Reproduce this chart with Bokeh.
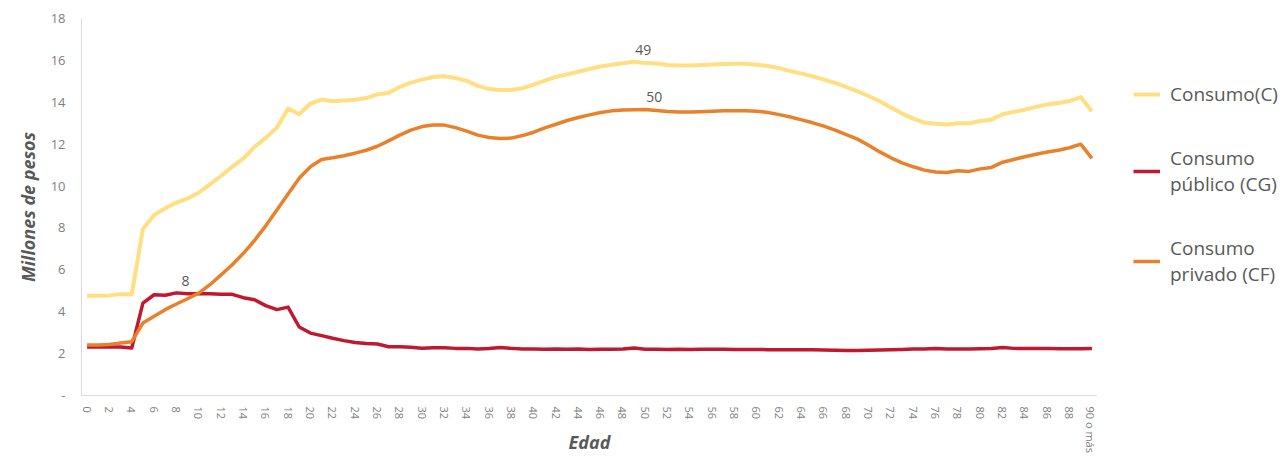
from bokeh.plotting import figure
from bokeh.layouts import row
from bokeh.models import Range1d, FixedTicker, Legend, LegendItem, ColumnDataSource
from bokeh.core.properties import value
from bokeh.embed import file_html
from bokeh.resources import INLINE

ages = list(range(91))

consumo_c = [4.76, 4.76, 4.78, 4.84, 4.84, 7.95, 8.62, 8.94, 9.21, 9.41,
             9.68, 10.08, 10.48, 10.92, 11.32, 11.87, 12.30, 12.79, 13.70, 13.43,
             13.94, 14.13, 14.05, 14.08, 14.12, 14.20, 14.38, 14.44, 14.73, 14.94,
             15.08, 15.21, 15.24, 15.16, 15.02, 14.78, 14.63, 14.59, 14.59, 14.67,
             14.84, 15.03, 15.21, 15.33, 15.46, 15.59, 15.71, 15.79, 15.86, 15.94,
             15.87, 15.85, 15.78, 15.76, 15.76, 15.78, 15.80, 15.83, 15.84, 15.84,
             15.79, 15.73, 15.63, 15.49, 15.37, 15.24, 15.08, 14.92, 14.73, 14.52,
             14.30, 14.05, 13.75, 13.46, 13.22, 13.03, 12.97, 12.94, 13.00, 13.00,
             13.11, 13.17, 13.43, 13.54, 13.65, 13.78, 13.89, 13.97, 14.06, 14.25,
             13.57]

consumo_cg = [2.32, 2.32, 2.32, 2.32, 2.27, 4.41, 4.81, 4.79, 4.90, 4.86,
              4.86, 4.86, 4.83, 4.83, 4.67, 4.57, 4.29, 4.10, 4.22, 3.27,
              2.98, 2.86, 2.73, 2.62, 2.53, 2.48, 2.46, 2.33, 2.33, 2.30,
              2.26, 2.28, 2.28, 2.25, 2.25, 2.22, 2.24, 2.29, 2.25, 2.22,
              2.22, 2.21, 2.22, 2.21, 2.22, 2.20, 2.21, 2.21, 2.22, 2.27,
              2.21, 2.21, 2.20, 2.21, 2.20, 2.21, 2.21, 2.21, 2.20, 2.20,
              2.20, 2.19, 2.19, 2.19, 2.18, 2.18, 2.17, 2.16, 2.15, 2.15,
              2.16, 2.17, 2.19, 2.20, 2.22, 2.22, 2.24, 2.22, 2.22, 2.22,
              2.23, 2.24, 2.29, 2.25, 2.24, 2.24, 2.25, 2.23, 2.23, 2.23,
              2.24]

consumo_cf = [2.41, 2.41, 2.44, 2.51, 2.57, 3.46, 3.78, 4.10, 4.37, 4.62,
              4.89, 5.29, 5.76, 6.24, 6.79, 7.40, 8.10, 8.86, 9.62, 10.37,
              10.92, 11.27, 11.35, 11.45, 11.57, 11.71, 11.90, 12.16, 12.43, 12.67,
              12.84, 12.92, 12.91, 12.79, 12.62, 12.43, 12.32, 12.27, 12.29, 12.41,
              12.57, 12.78, 12.95, 13.13, 13.27, 13.40, 13.51, 13.59, 13.63, 13.64,
              13.66, 13.61, 13.56, 13.53, 13.54, 13.55, 13.57, 13.59, 13.60, 13.60,
              13.57, 13.51, 13.41, 13.30, 13.16, 13.02, 12.86, 12.67, 12.46, 12.24,
              11.95, 11.63, 11.35, 11.11, 10.92, 10.76, 10.67, 10.65, 10.73, 10.70,
              10.82, 10.89, 11.14, 11.27, 11.40, 11.52, 11.63, 11.71, 11.83, 12.00,
              11.32]

x_ticks = list(range(0, 91, 2))
x_tick_labels = {90: "90 o más"}
y_ticks = list(range(0, 19, 2))
y_tick_labels = {0: "-"}

series_names = ["Consumo(C)", "Consumo\npúblico (CG)", "Consumo\nprivado (CF)"]
series_values = [consumo_c, consumo_cg, consumo_cf]
series_colors = ["#FFDF82", "#C0182F", "#E8812A"]
series_widths = [4, 3.5, 3.5]

peak_ages = [8, 49, 50]
peak_values = [consumo_cg[8], consumo_c[49], consumo_cf[50]]
peak_texts = ["8", "49", "50"]

FONT = "Open Sans"

p = figure(width=1097, height=456,
           x_range=Range1d(-0.5, 90.5), y_range=Range1d(0, 18),
           output_backend="svg", toolbar_location=None,
           min_border_left=81, min_border_right=0,
           min_border_top=18, min_border_bottom=60)

p.xgrid.visible = False
p.ygrid.visible = False
p.outline_line_color = None
p.background_fill_color = "white"
p.border_fill_color = "white"

for vals, col, w in zip(series_values, series_colors, series_widths):
    p.line(ages, vals, line_color=col, line_width=w, line_join="round")

src = ColumnDataSource(dict(x=peak_ages, y=peak_values, t=peak_texts))
p.text(x="x", y="y", text="t", source=src, text_font=value(FONT), text_font_size="14px",
       text_color="#595959", text_align="center", text_baseline="middle",
       x_offset=9, y_offset=-12)

# axes
yax = p.yaxis[0]
yax.ticker = FixedTicker(ticks=y_ticks)
yax.major_label_overrides = y_tick_labels
yax.axis_line_color = "#d9d9d9"
yax.major_tick_line_color = None
yax.minor_tick_line_color = None
yax.major_label_standoff = 10
yax.major_label_text_font = FONT
yax.major_label_text_font_size = "13px"
yax.major_label_text_color = "#808080"
yax.axis_label = "Millones de pesos"
yax.axis_label_text_font = FONT
yax.axis_label_text_font_style = "bold italic"
yax.axis_label_text_font_size = "18px"
yax.axis_label_text_color = "#595959"
yax.axis_label_standoff = 8

xax = p.xaxis[0]
xax.ticker = FixedTicker(ticks=x_ticks)
xax.major_label_overrides = x_tick_labels
xax.axis_line_color = "#d9d9d9"
xax.major_tick_line_color = None
xax.minor_tick_line_color = None
xax.major_label_orientation = "vertical"
xax.major_label_standoff = 5
xax.major_label_text_font = FONT
xax.major_label_text_font_size = "11px"
xax.major_label_text_color = "#808080"
xax.axis_label = "Edad"
xax.axis_label_text_font = FONT
xax.axis_label_text_font_style = "bold italic"
xax.axis_label_text_font_size = "18px"
xax.axis_label_text_color = "#595959"
xax.axis_label_standoff = -26

# legend panel (separate figure on the right); its lines lie outside its view
pl = figure(width=191, height=456, x_range=Range1d(-300, -200), y_range=Range1d(0, 18),
            output_backend="svg", toolbar_location=None, min_border=0)
pl.axis.visible = False
pl.xgrid.visible = False
pl.ygrid.visible = False
pl.outline_line_color = None
pl.background_fill_color = "white"
pl.border_fill_color = "white"

items = []
for name, vals, col, w in zip(series_names, series_values, series_colors, series_widths):
    r = pl.line(ages, vals, line_color=col, line_width=w)
    items.append(LegendItem(label=name, renderers=[r]))

legend = Legend(items=items, location=(36, 108), orientation="vertical",
                label_text_font=FONT, label_text_font_size="19px",
                label_text_color="#595959", glyph_width=27, glyph_height=20,
                label_standoff=10, padding=0, margin=0, spacing=38,
                border_line_color=None, background_fill_alpha=0)
pl.add_layout(legend)

layout = row(p, pl, spacing=0)
open("out.html", "w").write(file_html(layout, INLINE))
